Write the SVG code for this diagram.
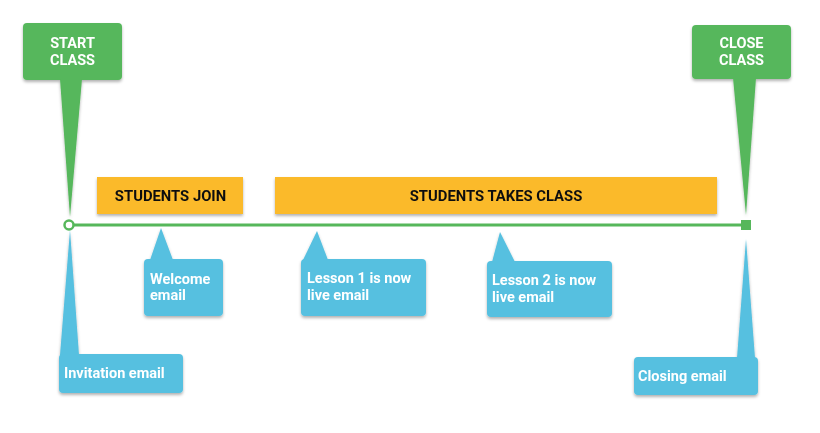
<svg xmlns="http://www.w3.org/2000/svg" width="820" height="433" viewBox="0 0 820 433">
<defs>
<filter id="sh" x="-20%" y="-20%" width="140%" height="140%">
<feDropShadow dx="0" dy="2" stdDeviation="1.5" flood-color="#000" flood-opacity="0.3"/>
</filter>
<style>
.g{fill:#56b75b}
.o{fill:#fbba2b}
.b{fill:#56c0e0}
.tw{font-family:Roboto,"Liberation Sans",sans-serif;font-weight:700;font-size:14.5px;fill:#fff;text-anchor:middle}
.to{font-family:Roboto,"Liberation Sans",sans-serif;font-weight:700;font-size:14.8px;fill:#111;text-anchor:middle}
.tb{font-family:Roboto,"Liberation Sans",sans-serif;font-weight:700;font-size:14.5px;fill:#fff}
</style>
</defs>
<rect width="820" height="433" fill="#fff"/>
<g id="connectors">
<line x1="69" y1="225" x2="746" y2="225" stroke="#56b75b" stroke-width="3"/>
</g>
<g id="start-class" filter="url(#sh)">
<rect class="g" x="23" y="23" width="99" height="57" rx="4"/>
<polygon class="g" points="60,79 82,79 70,217"/>
<text class="tw" x="72.5" y="48">START</text>
<text class="tw" x="72.5" y="65">CLASS</text>
</g>
<g id="close-class" filter="url(#sh)">
<rect class="g" x="692" y="25" width="99" height="54" rx="4"/>
<polygon class="g" points="733,78 756,78 746,215"/>
<text class="tw" x="741.5" y="48">CLOSE</text>
<text class="tw" x="741.5" y="65">CLASS</text>
</g>
<g id="start-marker">
<circle cx="69" cy="225" r="4.5" fill="#fff" stroke="#56b75b" stroke-width="2.5"/>
</g>
<g id="end-marker">
<rect x="741" y="220" width="10" height="10" fill="#56b75b"/>
</g>
<g id="students-join" filter="url(#sh)">
<rect class="o" x="97" y="177" width="146" height="37"/>
<text class="to" x="170.5" y="201">STUDENTS JOIN</text>
</g>
<g id="students-takes-class" filter="url(#sh)">
<rect class="o" x="275" y="177" width="442" height="37"/>
<text class="to" x="496" y="201">STUDENTS TAKES CLASS</text>
</g>
<g id="invitation-email" filter="url(#sh)">
<polygon class="b" points="60,355 79,355 70,230"/>
<rect class="b" x="59" y="354" width="124" height="39" rx="4"/>
<text class="tb" x="64" y="378">Invitation email</text>
</g>
<g id="welcome-email" filter="url(#sh)">
<polygon class="b" points="150,260 173,260 161,228"/>
<rect class="b" x="144" y="259" width="79" height="57" rx="4"/>
<text class="tb" x="150" y="284">Welcome</text>
<text class="tb" x="150" y="300">email</text>
</g>
<g id="lesson1-email" filter="url(#sh)">
<polygon class="b" points="303,260 328,260 317,231"/>
<rect class="b" x="301" y="259" width="125" height="57" rx="4"/>
<text class="tb" x="307" y="283">Lesson 1 is now</text>
<text class="tb" x="307" y="300">live email</text>
</g>
<g id="lesson2-email" filter="url(#sh)">
<polygon class="b" points="492,262 515,262 500,232"/>
<rect class="b" x="487" y="261" width="125" height="56" rx="4"/>
<text class="tb" x="492" y="285">Lesson 2 is now</text>
<text class="tb" x="492" y="302">live email</text>
</g>
<g id="closing-email" filter="url(#sh)">
<polygon class="b" points="737,358 755,358 746,239"/>
<rect class="b" x="634" y="357" width="124" height="38" rx="4"/>
<text class="tb" x="638" y="381">Closing email</text>
</g>
</svg>
